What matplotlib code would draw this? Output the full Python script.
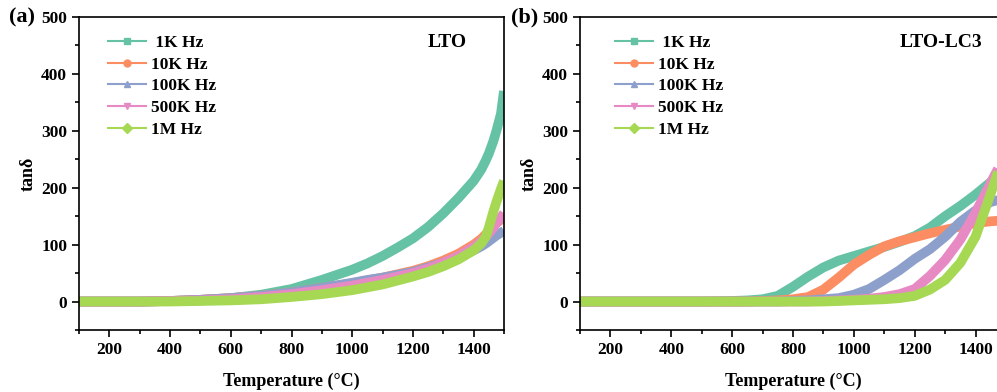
import matplotlib
matplotlib.use('Agg')
import numpy as np
import matplotlib.pyplot as plt
from matplotlib.lines import Line2D
from matplotlib.ticker import MultipleLocator

plt.rcParams['font.family'] = ['Liberation Serif', 'DejaVu Serif']
plt.rcParams['font.weight'] = 'bold'

# tan(delta) vs temperature, LTO
temp_a = [100, 200, 300, 400, 500, 600, 700, 800, 900, 1000, 1050, 1100, 1150, 1200,
          1250, 1300, 1350, 1400, 1425, 1440, 1450, 1465, 1475, 1490, 1500]
lto_1k = [0, 0, 0, 1, 3, 6, 12, 22, 38, 56, 67, 80, 95, 111,
          131, 155, 182, 212, 232, 248, 260, 282, 300, 330, 370]
lto_10k = [0, 0, 0, 1, 3, 6, 10, 16, 24, 32, 37, 42, 48, 54,
           62, 72, 84, 100, 110, 118, 124, 132, 138, 144, 148]
lto_100k = [0, 0, 0, 1, 3, 6, 10, 16, 24, 33, 38, 42, 47, 52,
            60, 68, 78, 90, 97, 102, 106, 112, 116, 121, 124]
lto_500k = [0, 0, 0, 1, 2, 4, 8, 13, 20, 28, 33, 38, 44, 50,
            58, 68, 80, 96, 106, 114, 120, 130, 138, 148, 155]
lto_1m = [0, 0, 0, 0, 1, 2, 4, 8, 13, 20, 25, 30, 37, 44,
          52, 62, 74, 90, 102, 114, 130, 158, 175, 198, 212]

# tan(delta) vs temperature, LTO-LC3
temp_b = [100, 200, 300, 400, 500, 600, 650, 700, 750, 800, 850, 900,
          950, 1000, 1050, 1100, 1150, 1200, 1250, 1300, 1350, 1400, 1450, 1500]
lc3_1k = [0, 0, 0, 0, 0, 1, 2, 4, 10, 26, 44, 60,
          72, 80, 88, 96, 105, 115, 130, 150, 168, 188, 210, 235]
lc3_10k = [0, 0, 0, 0, 0, 0, 0, 1, 2, 4, 8, 21,
           42, 65, 82, 97, 106, 113, 120, 126, 132, 138, 141, 143]
lc3_100k = [0, 0, 0, 0, 0, 0, 0, 0, 0, 1, 2, 4,
            6, 12, 22, 38, 55, 75, 92, 114, 140, 160, 175, 182]
lc3_500k = [0, 0, 0, 0, 0, 0, 0, 0, 0, 0, 0, 1,
            2, 3, 5, 8, 13, 22, 45, 73, 109, 156, 209, 260]
lc3_1m = [0, 0, 0, 0, 0, 0, 0, 0, 0, 0, 0, 0,
          1, 2, 3, 4, 6, 10, 21, 38, 68, 114, 190, 270]

labels = [' 1K Hz', '10K Hz', '100K Hz', '500K Hz', '1M Hz']
colors = ['#66c2a5', '#fc8d62', '#8da0cb', '#e78ac3', '#a6d854']
markers = ['s', 'o', '^', 'v', 'D']

fig = plt.figure(figsize=(9.97, 3.92), dpi=100)
W, H = 997., 392.
ax_a = fig.add_axes([79/W, 62/H, 425/W, 313/H])
ax_b = fig.add_axes([580/W, 62/H, 426/W, 313/H])

panels = [
    (ax_a, temp_a, [lto_1k, lto_10k, lto_100k, lto_500k, lto_1m], 'LTO', 0.866, '(a)', 9, 0.06),
    (ax_b, temp_b, [lc3_1k, lc3_10k, lc3_100k, lc3_500k, lc3_1m], 'LTO-LC3', 0.847, '(b)', 511, 0.074),
]

for ax, t, series, name, name_x, tag, tag_x, leg_x in panels:
    # thick bands for the dense measurement traces
    for ys, c in zip(series, colors):
        ax.plot(t, ys, color=c, lw=7, solid_joinstyle='round', solid_capstyle='butt')
    ax.set_xlim(100, 1500)
    ax.set_ylim(-50, 500)
    ax.xaxis.set_major_locator(MultipleLocator(200))
    ax.xaxis.set_minor_locator(MultipleLocator(100))
    ax.yaxis.set_major_locator(MultipleLocator(100))
    ax.yaxis.set_minor_locator(MultipleLocator(50))
    ax.tick_params(which='both', direction='out', width=1.2, labelsize=12.5,
                   top=False, right=False)
    ax.tick_params(which='major', length=5)
    ax.tick_params(which='minor', length=3)
    for lab in ax.get_xticklabels() + ax.get_yticklabels():
        lab.set_fontweight('bold')
    for sp in ax.spines.values():
        sp.set_linewidth(1.2)
    ax.set_xlabel('Temperature (°C)', fontsize=13, fontweight='bold', labelpad=11)
    ax.set_ylabel('tanδ', fontsize=13, fontweight='bold', labelpad=3)
    ax.text(name_x, 0.92, name, transform=ax.transAxes, ha='center', va='center',
            fontsize=14, fontweight='bold')
    fig.text(tag_x/W, 1 - 17/H, tag, ha='left', va='center', fontsize=16,
             fontweight='bold')

    handles = [Line2D([], [], color=c, marker=m, markersize=5, lw=1.5)
               for c, m in zip(colors, markers)]
    ax.legend(handles, labels, loc='upper left', bbox_to_anchor=(leg_x, 0.955),
              frameon=False, handlelength=2.2, handletextpad=0.25,
              labelspacing=0.33, borderaxespad=0, borderpad=0.2,
              prop={'weight': 'bold', 'size': 12.5})

fig.savefig('out.png', dpi=100)
